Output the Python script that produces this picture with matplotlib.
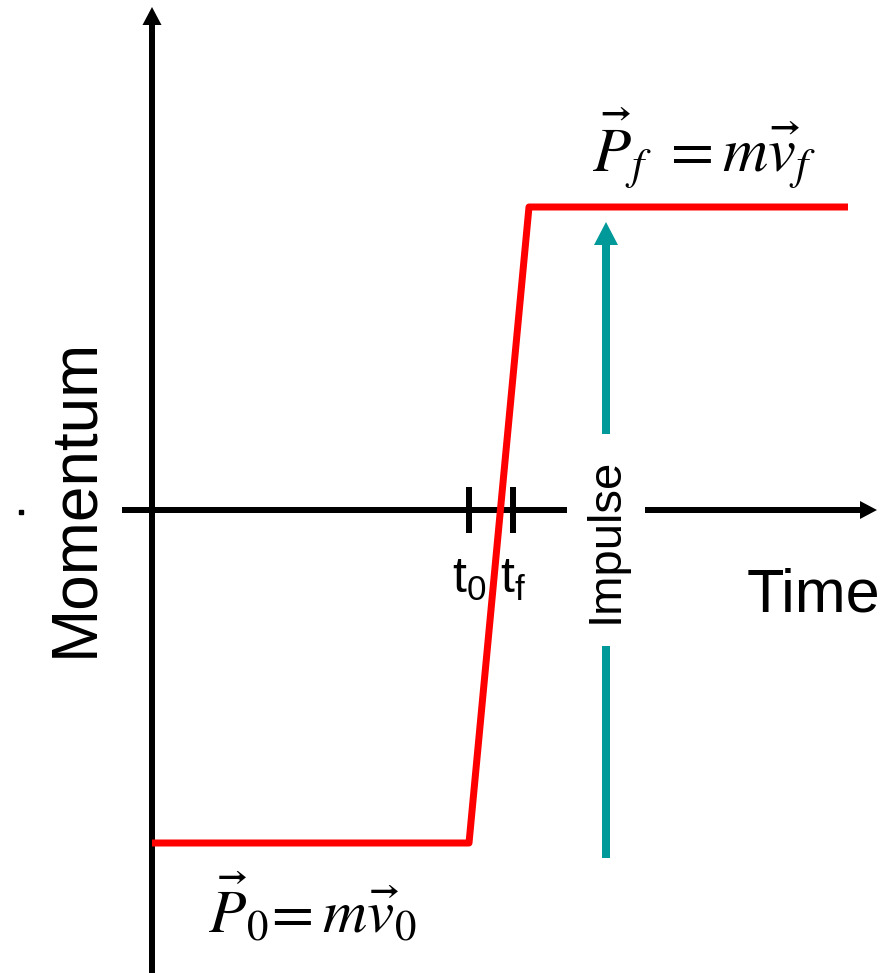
"""Momentum vs time sketch: impulse as the jump between P0 and Pf."""

import matplotlib
matplotlib.use("Agg")
import matplotlib.pyplot as plt
from matplotlib.patches import Rectangle

plt.rcParams['font.family'] = ['Liberation Sans', 'DejaVu Sans']
plt.rcParams['mathtext.fontset'] = 'custom'
plt.rcParams['mathtext.rm'] = 'Liberation Sans'
plt.rcParams['mathtext.it'] = 'Liberation Sans:italic'

# data (time along x, momentum along y, arbitrary units)
time = [0, 317, 377, 696]
momentum = [-333, -333, 303, 303]
tick_times = [317, 361]
tick_labels = [r'$\mathrm{t}_\mathrm{0}$', r'$\mathrm{t}_\mathrm{f}$']
impulse_time = 454
impulse_from = -348
impulse_to = 288

PX = 72 / 100  # points per pixel at dpi 100

fig = plt.figure(figsize=(8.96, 9.73), dpi=100)
ax = fig.add_axes([0, 0, 1, 1])
ax.set_xlim(-152, 744)
ax.set_ylim(-463, 510)
ax.axis('off')

# axes with arrow heads
ax.arrow(0, -463, 0, 503 + 463, width=6, head_width=19, head_length=18,
         length_includes_head=True, color='black', lw=0, zorder=2)
ax.arrow(-30, 0, 725 + 30, 0, width=6, head_width=18, head_length=17,
         length_includes_head=True, color='black', lw=0, zorder=2)
ax.plot(-131, -2, marker='s', markersize=3, color='black', lw=0)

# t0 / tf ticks
ax.vlines(tick_times, -23, 23, color='black', lw=6 * PX, zorder=2)
for t, lab in zip(tick_times, tick_labels):
    ax.text(t, -83, lab, ha='center', va='baseline', fontsize=36,
            math_fontfamily='custom')

# momentum curve
ax.plot(time, momentum, color='#ff0000', lw=7 * PX, solid_joinstyle='round',
        solid_capstyle='butt', zorder=3)

# impulse arrow, broken by the label
ax.arrow(impulse_time, impulse_from, 0, impulse_to - impulse_from, width=8,
         head_width=24, head_length=23, length_includes_head=True,
         color='#009999', lw=0, zorder=2)
ax.add_patch(Rectangle((415, -136), 78, 212, facecolor='white',
                       edgecolor='none', zorder=4))
ax.text(454, -30, 'Impulse', rotation=90, ha='center', va='center',
        fontsize=34, zorder=5)

# axis titles
ax.text(-77, 13, 'Momentum', rotation=90, ha='center', va='center', fontsize=46)
ax.text(595, -102, 'Time', ha='left', va='baseline', fontsize=44)

# equations
ax.text(440, 338, r'$\vec{P}_{f}\ = m\vec{v}_{f}$', ha='left', va='baseline',
        fontsize=45, math_fontfamily='stix')
ax.text(56, -422, r'$\vec{P}_0\!= m\vec{v}_0$', ha='left', va='baseline',
        fontsize=44, math_fontfamily='stix')

fig.savefig('out.png', dpi=100)
